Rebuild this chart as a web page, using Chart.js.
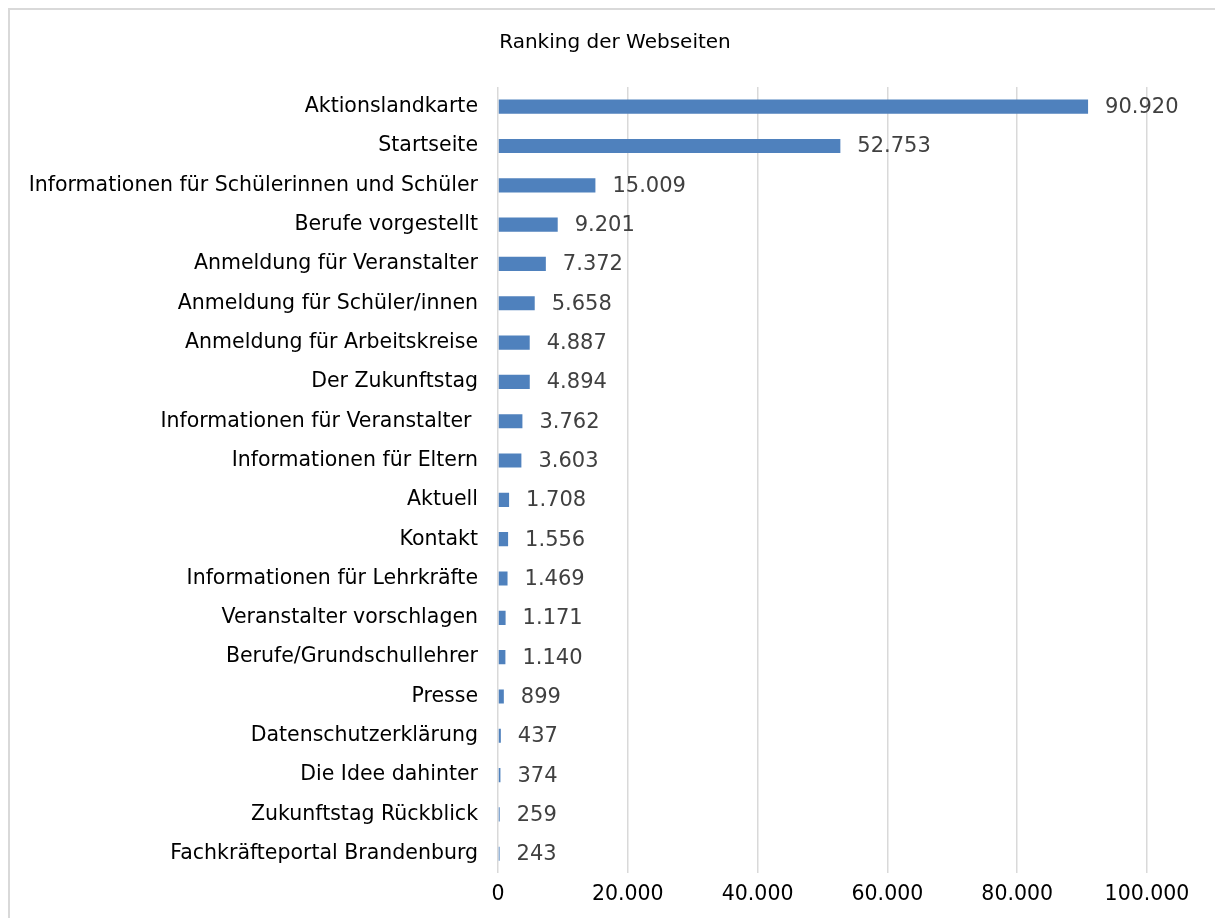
<html>
<head>
<script src="https://cdn.jsdelivr.net/npm/chart.js"></script>
<style>
  body { margin: 0; background: #fff; overflow: hidden; }
  #frame { position: absolute; left: 8px; top: 8px; width: 1230px; height: 930px; border: 2px solid #d9d9d9; }
  #wrap { position: absolute; left: 0; top: 0; width: 1215px; height: 918px; }
</style>
</head>
<body>
<div id="frame"></div>
<div id="wrap"><canvas id="chart"></canvas></div>
<script>
var pages = ['Aktionslandkarte', 'Startseite', 'Informationen für Schülerinnen und Schüler', 'Berufe vorgestellt',
  'Anmeldung für Veranstalter', 'Anmeldung für Schüler/innen', 'Anmeldung für Arbeitskreise', 'Der Zukunftstag',
  'Informationen für Veranstalter ', 'Informationen für Eltern', 'Aktuell', 'Kontakt', 'Informationen für Lehrkräfte',
  'Veranstalter vorschlagen', 'Berufe/Grundschullehrer', 'Presse', 'Datenschutzerklärung', 'Die Idee dahinter',
  'Zukunftstag Rückblick', 'Fachkräfteportal Brandenburg']
var visits = [90920, 52753, 15009, 9201, 7372, 5658, 4887, 4894, 3762, 3603, 1708, 1556, 1469, 1171, 1140, 899, 437, 374, 259, 243]
var chartTitle = 'Ranking der Webseiten'

var FONT = 'DejaVu Sans'
var SIZE = 20.5
function fmt(v) { return v.toLocaleString('de-DE') }

// title centred on the whole canvas + value labels right of each bar
var extras = {
  id: 'extras',
  afterDatasetsDraw: function(chart) {
    var ctx = chart.ctx
    var meta = chart.getDatasetMeta(0)
    ctx.save()
    ctx.textBaseline = 'middle'
    ctx.font = '20px ' + FONT
    ctx.fillStyle = '#000'
    ctx.textAlign = 'center'
    ctx.fillText(chartTitle, 615, 43)
    ctx.font = '21px ' + FONT
    ctx.fillStyle = '#404040'
    ctx.textAlign = 'left'
    meta.data.forEach(function(bar, i) {
      ctx.fillText(fmt(visits[i]), bar.x + 17, bar.y + 1)
    })
    ctx.restore()
  }
}

new Chart(document.getElementById('chart'), {
  type: 'bar',
  data: {
    labels: pages,
    datasets: [{
      data: visits,
      backgroundColor: '#4f81bd',
      categoryPercentage: 0.36,
      barPercentage: 1
    }]
  },
  options: {
    indexAxis: 'y',
    responsive: true,
    maintainAspectRatio: false,
    animation: false,
    layout: { padding: { left: 0, right: 68, top: 87, bottom: 2 } },
    plugins: {
      legend: { display: false },
      tooltip: { enabled: false },
      title: { display: false }
    },
    scales: {
      x: {
        min: 0, max: 100000,
        ticks: { stepSize: 20000, color: '#000', padding: 9, font: { family: FONT, size: SIZE },
          callback: function(v) { return fmt(v) } },
        grid: { color: '#d9d9d9', lineWidth: 1.5, drawTicks: false },
        border: { display: false }
      },
      y: {
        ticks: { color: '#000', padding: 20, font: { family: FONT, size: SIZE }, autoSkip: false },
        grid: { display: false, drawTicks: false },
        border: { display: false },
        afterFit: function(scale) { scale.width = 498 }
      }
    }
  },
  plugins: [extras]
})
</script>
</body>
</html>
